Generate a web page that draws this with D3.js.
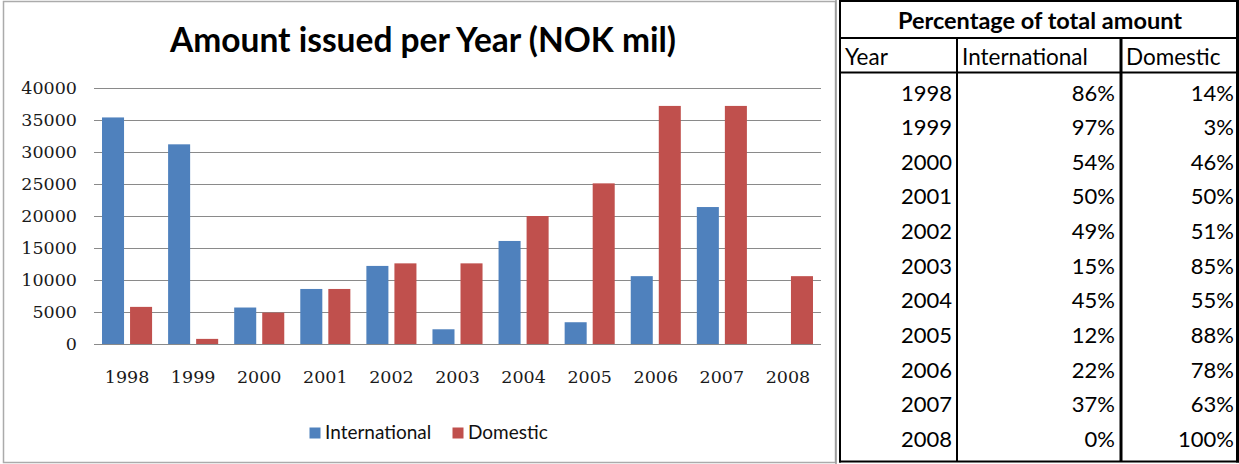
<!DOCTYPE html>
<html>
<head>
<meta charset="utf-8">
<script src="https://cdn.jsdelivr.net/npm/d3@7"></script>
<style>
  html, body { margin: 0; padding: 0; background: #fff; }
  svg { display: block; }
</style>
</head>
<body>
<svg id="chart" width="1239" height="464"></svg>
<script>
// Amounts issued per year, NOK million
const years = ["1998", "1999", "2000", "2001", "2002", "2003", "2004", "2005", "2006", "2007", "2008"];
const international = [35400, 31200, 5700, 8600, 12200, 2300, 16100, 3400, 10600, 21400, 0];
const domestic = [5800, 800, 4900, 8600, 12600, 12600, 20000, 25100, 37200, 37200, 10600];
const seriesNames = ["International", "Domestic"];
const seriesColors = ["#4F81BD", "#C0504D"];
const yTicks = [0, 5000, 10000, 15000, 20000, 25000, 30000, 35000, 40000];

// Share of each year's total
const tableTitle = "Percentage of total amount";
const tableHeaders = ["Year", "International", "Domestic"];
const pctInternational = ["86%", "97%", "54%", "50%", "49%", "15%", "45%", "12%", "22%", "37%", "0%"];
const pctDomestic = ["14%", "3%", "46%", "50%", "51%", "85%", "55%", "88%", "78%", "63%", "100%"];

const svg = d3.select("#chart");
svg.append("rect").attr("width", 1239).attr("height", 464).attr("fill", "#fff");

// ---------- bar chart ----------
const frame = svg.append("g");
frame.append("rect")
  .attr("x", 3.5).attr("y", 1.5).attr("width", 832).attr("height", 461)
  .attr("fill", "none").attr("stroke", "#ababab").attr("stroke-width", 1.5);

svg.append("text")
  .attr("x", 423).attr("y", 52)
  .attr("text-anchor", "middle")
  .attr("font-family", "Lato, 'Open Sans', sans-serif")
  .attr("font-weight", "bold")
  .attr("font-size", 33.5)
  .attr("fill", "#000")
  .text("Amount issued per Year (NOK mil)");

const plot = { left: 94, right: 821, top: 88, bottom: 344 };
const x = d3.scaleBand().domain(years).range([plot.left, plot.right]);
const bw = x.bandwidth();
const xs = d3.scaleBand().domain(seriesNames)
  .range([bw * 8 / 66, bw * 58 / 66]).paddingInner(6 / 28);
const y = d3.scaleLinear().domain([0, 40000]).range([plot.bottom, plot.top]);

const serifFont = "'DejaVu Serif', 'Liberation Serif', serif";

const yAxis = d3.axisLeft(y)
  .tickValues(yTicks)
  .tickSize(-(plot.right - plot.left))
  .tickPadding(17)
  .tickFormat(d3.format("d"));
const gy = svg.append("g").attr("transform", `translate(${plot.left},0)`).call(yAxis);
gy.select(".domain").remove();
gy.selectAll(".tick line").attr("stroke", "#8a8a8a").attr("stroke-width", 1);
gy.selectAll(".tick text")
  .attr("font-family", serifFont).attr("font-size", 17.5).attr("fill", "#1a1a1a");

const xAxis = d3.axisBottom(x).tickSize(0).tickPadding(26.5);
const gx = svg.append("g").attr("transform", `translate(0,${plot.bottom})`).call(xAxis);
gx.select(".domain").remove();
gx.selectAll(".tick text")
  .attr("font-family", serifFont).attr("font-size", 17.5).attr("fill", "#1a1a1a");

const seriesValues = [international, domestic];
const barData = [];
years.forEach((yr, i) => {
  seriesNames.forEach((s, j) => barData.push({ year: yr, series: s, value: seriesValues[j][i], color: seriesColors[j] }));
});

svg.append("g").selectAll("rect")
  .data(barData.filter(d => d.value > 0))
  .join("rect")
  .attr("x", d => x(d.year) + xs(d.series))
  .attr("width", xs.bandwidth())
  .attr("y", d => y(d.value))
  .attr("height", d => y(0) - y(d.value))
  .attr("fill", d => d.color);

// legend
const legendFont = "Lato, 'Open Sans', sans-serif";
const legend = svg.append("g");
const legendX = [309.5, 452.5];
seriesNames.forEach((s, j) => {
  legend.append("rect")
    .attr("x", legendX[j]).attr("y", 427.5).attr("width", 11).attr("height", 11)
    .attr("fill", seriesColors[j]);
  legend.append("text")
    .attr("x", legendX[j] + 15.5).attr("y", 439)
    .attr("font-family", legendFont).attr("font-size", 19).attr("fill", "#111")
    .text(s);
});

// ---------- percentage table ----------
const T = { left: 840, c1: 957, c2: 1121, right: 1237.5, top: 1, h1: 38, h2: 72.5, bottom: 461.5 };
const tableFont = "Lato, 'Open Sans', sans-serif";
const tbl = svg.append("g");

// outer grey edge left of the table
tbl.append("line").attr("x1", 836).attr("x2", 836).attr("y1", 0).attr("y2", 464)
  .attr("stroke", "#9a9a9a").attr("stroke-width", 1.5);

const hline = (y0, x1, x2, w) => tbl.append("line")
  .attr("x1", x1).attr("x2", x2).attr("y1", y0).attr("y2", y0)
  .attr("stroke", "#000").attr("stroke-width", w);
const vline = (x0, y1, y2, w) => tbl.append("line")
  .attr("x1", x0).attr("x2", x0).attr("y1", y1).attr("y2", y2)
  .attr("stroke", "#000").attr("stroke-width", w);

hline(T.top, T.left - 1, T.right + 1.5, 2);
hline(T.h1, T.left, T.right, 2);
hline(T.h2, T.left, T.right, 2);
hline(T.bottom, T.left - 1, T.right + 1.5, 2);
vline(T.left, T.top, T.bottom + 1, 2);
vline(T.right, T.top, T.bottom + 1, 3);
vline(T.c1, T.h1, T.bottom, 2);
vline(T.c2, T.h1, T.bottom, 3);

tbl.append("text")
  .attr("x", 1040).attr("y", 29).attr("text-anchor", "middle")
  .attr("font-family", tableFont).attr("font-weight", "bold").attr("font-size", 23.5)
  .text(tableTitle);

const headerX = [845, 962, 1126];
tableHeaders.forEach((h, i) => {
  tbl.append("text")
    .attr("x", headerX[i]).attr("y", 65)
    .attr("font-family", tableFont).attr("font-size", 22.5)
    .text(h);
});

const rowY = d3.scalePoint().domain(years).range([100.5, 447]);
const cols = [
  { values: years, x: 952 },
  { values: pctInternational, x: 1115 },
  { values: pctDomestic, x: 1234 }
];
cols.forEach(c => {
  tbl.append("g").selectAll("text")
    .data(years.map((yr, i) => ({ yr, v: c.values[i] })))
    .join("text")
    .attr("x", c.x).attr("y", d => rowY(d.yr))
    .attr("text-anchor", "end")
    .attr("font-family", tableFont).attr("font-size", 22)
    .attr("fill", "#000")
    .text(d => d.v);
});
</script>
</body>
</html>
